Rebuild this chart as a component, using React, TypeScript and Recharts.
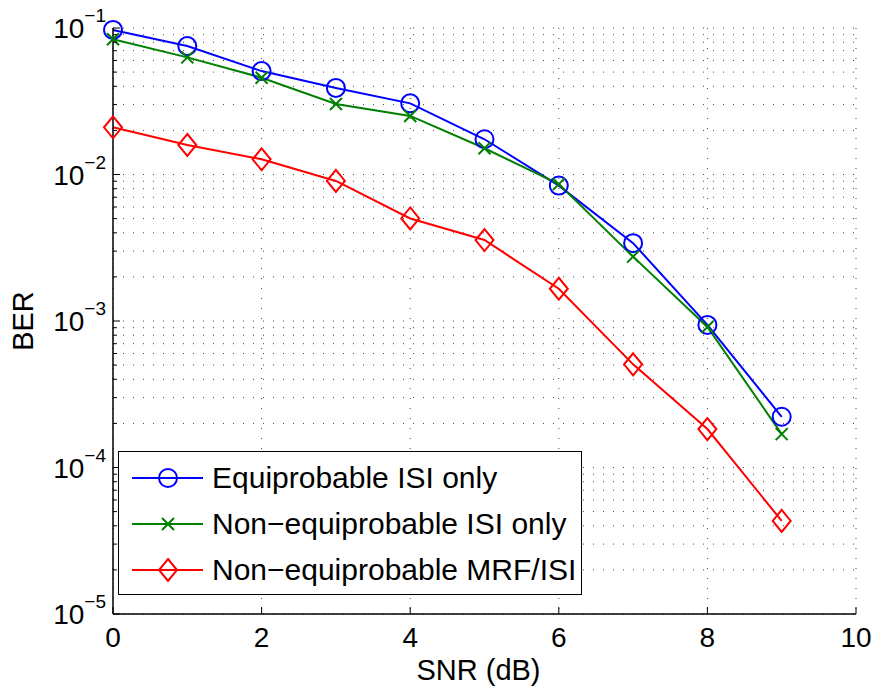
import React from "react";
import {
  LineChart,
  Line,
  XAxis,
  YAxis,
  CartesianGrid,
  Legend,
} from "recharts";

// ---- data ----
const snrDb = [0, 1, 2, 3, 4, 5, 6, 7, 8, 9];
const equiprobableIsi = [0.097, 0.0753, 0.0508, 0.039, 0.0306, 0.0174, 0.0084, 0.0034, 0.00094, 0.000222];
const nonEquiprobableIsi = [0.0837, 0.063, 0.0458, 0.0303, 0.0251, 0.0151, 0.0086, 0.00275, 0.00091, 0.000169];
const nonEquiprobableMrf = [0.021, 0.0159, 0.0127, 0.00904, 0.00501, 0.00357, 0.00166, 0.000506, 0.000183, 0.0000432];

const xTicks = [0, 2, 4, 6, 8, 10];
const yDecades = [-5, -4, -3, -2, -1];
const yTicks: number[] = [];
yDecades.forEach((d) => {
  yTicks.push(Math.pow(10, d));
  if (d < -1) for (let m = 2; m <= 9; m++) yTicks.push(m * Math.pow(10, d));
});

const seriesNames = [
  "Equiprobable ISI only",
  "Non\u2212equiprobable ISI only",
  "Non\u2212equiprobable MRF/ISI",
];
const seriesKeys = ["equi", "nonEqui", "mrf"];
const seriesColors = ["#0000ff", "#008000", "#ff0000"];
const seriesMarkers = ["circle", "cross", "diamond"];

const data = snrDb.map((s, i) => ({
  snr: s,
  equi: equiprobableIsi[i],
  nonEqui: nonEquiprobableIsi[i],
  mrf: nonEquiprobableMrf[i],
}));

const FONT = "'Liberation Sans', Arial, Helvetica, sans-serif";

const isMajor = (v: number) => {
  const l = Math.log10(v);
  return Math.abs(l - Math.round(l)) < 1e-9;
};

const Marker = ({ kind, cx, cy, color }: any) => {
  if (kind === "circle")
    return <circle cx={cx} cy={cy} r={9} fill="none" stroke={color} strokeWidth={2} />;
  if (kind === "cross")
    return (
      <path
        d={`M${cx - 6},${cy - 6}L${cx + 6},${cy + 6}M${cx - 6},${cy + 6}L${cx + 6},${cy - 6}`}
        stroke={color}
        strokeWidth={2}
        fill="none"
      />
    );
  return (
    <path
      d={`M${cx},${cy - 11}L${cx + 9},${cy}L${cx},${cy + 11}L${cx - 9},${cy}Z`}
      stroke={color}
      strokeWidth={2}
      fill="none"
    />
  );
};

const makeDot = (kind: string, color: string) => (props: any) => {
  const { cx, cy, index } = props;
  if (cx == null || cy == null) return <g key={`e-${kind}-${index}`} />;
  return (
    <g key={`${kind}-${index}`}>
      <Marker kind={kind} cx={cx} cy={cy} color={color} />
    </g>
  );
};

const LeftTick = (p: any) => {
  const { x, y, payload } = p;
  const v = payload.value;
  const major = isMajor(v);
  const e = Math.round(Math.log10(v));
  return (
    <g>
      <line x1={x} x2={x + (major ? 7 : 4)} y1={y} y2={y} stroke="#000" strokeWidth={1} />
      {major && (
        <text x={x - 7} y={y + 10} textAnchor="end" fontFamily={FONT} fill="#000">
          <tspan fontSize={28}>10</tspan>
          <tspan fontSize={19} dy={-16}>{"\u2212" + String(-e)}</tspan>
        </text>
      )}
    </g>
  );
};

const RightTick = (p: any) => {
  const { x, y, payload } = p;
  const major = isMajor(payload.value);
  return <line x1={x} x2={x - (major ? 7 : 4)} y1={y} y2={y} stroke="#000" strokeWidth={1} />;
};

const BottomTick = (p: any) => {
  const { x, y, payload } = p;
  return (
    <g>
      <line x1={x} x2={x} y1={y} y2={y - 7} stroke="#000" strokeWidth={1} />
      <text x={x} y={y + 33} textAnchor="middle" fontFamily={FONT} fontSize={28} fill="#000">
        {payload.value}
      </text>
    </g>
  );
};

const TopTick = (p: any) => {
  const { x, y } = p;
  return <line x1={x} x2={x} y1={y} y2={y + 7} stroke="#000" strokeWidth={1} />;
};

const renderLegend = () => (
  <div
    style={{
      width: 464,
      height: 144,
      boxSizing: "border-box",
      border: "1.5px solid #000",
      background: "#fff",
      paddingTop: 3,
      fontFamily: FONT,
    }}
  >
    {seriesNames.map((name, i) => (
      <div key={name} style={{ display: "flex", alignItems: "center", height: 46 }}>
        <svg width={93} height={46} style={{ display: "block" }}>
          <line x1={13} x2={84} y1={23} y2={23} stroke={seriesColors[i]} strokeWidth={2} />
          <Marker kind={seriesMarkers[i]} cx={49} cy={23} color={seriesColors[i]} />
        </svg>
        <span style={{ fontSize: 30, color: "#000", whiteSpace: "nowrap", lineHeight: "46px" }}>{name}</span>
      </div>
    ))}
  </div>
);

const YLabel = (props: any) => {
  const vb = props.viewBox;
  return (
    <text
      transform={`translate(${vb.x + 33}, ${vb.y + vb.height / 2}) rotate(-90)`}
      textAnchor="middle"
      fontFamily={FONT}
      fontSize={29}
      fill="#000"
    >
      BER
    </text>
  );
};

const XLabel = (props: any) => {
  const vb = props.viewBox;
  return (
    <text
      x={vb.x + vb.width / 2 - 6}
      y={vb.y + 66}
      textAnchor="middle"
      fontFamily={FONT}
      fontSize={29}
      fill="#000"
    >
      SNR (dB)
    </text>
  );
};

export default function App() {
  return (
    <div style={{ position: "absolute", left: 0, top: 0, width: 877, height: 687, background: "#fff" }}>
      <LineChart width={877} height={687} data={data} margin={{ top: 28, right: 21, bottom: 0, left: 0 }}>
        <CartesianGrid stroke="#444" strokeWidth={1} strokeDasharray="1 9" />
        <XAxis
          dataKey="snr"
          type="number"
          domain={[0, 10]}
          ticks={xTicks}
          interval={0}
          height={73}
          tickSize={0}
          tickMargin={0}
          tickLine={false}
          tick={<BottomTick />}
          axisLine={{ stroke: "#000", strokeWidth: 1.5 }}
          label={<XLabel />}
        />
        <XAxis
          xAxisId="t"
          orientation="top"
          dataKey="snr"
          type="number"
          domain={[0, 10]}
          ticks={xTicks}
          interval={0}
          height={0}
          tickSize={0}
          tickMargin={0}
          tickLine={false}
          tick={<TopTick />}
          axisLine={{ stroke: "#000", strokeWidth: 1.5 }}
        />
        <YAxis
          scale="log"
          type="number"
          domain={[1e-5, 1e-1]}
          ticks={yTicks}
          interval={0}
          width={113}
          tickSize={0}
          tickMargin={0}
          tickLine={false}
          tick={<LeftTick />}
          axisLine={{ stroke: "#000", strokeWidth: 1.5 }}
          label={<YLabel />}
        />
        <YAxis
          yAxisId="r"
          orientation="right"
          scale="log"
          type="number"
          domain={[1e-5, 1e-1]}
          ticks={yTicks}
          interval={0}
          width={0}
          tickSize={0}
          tickMargin={0}
          tickLine={false}
          tick={<RightTick />}
          axisLine={{ stroke: "#000", strokeWidth: 1.5 }}
        />
        {seriesKeys.map((k, i) => (
          <Line
            key={k}
            dataKey={k}
            name={seriesNames[i]}
            stroke={seriesColors[i]}
            strokeWidth={2}
            dot={makeDot(seriesMarkers[i], seriesColors[i])}
            activeDot={false}
            isAnimationActive={false}
          />
        ))}
        <Legend
          layout="vertical"
          align="center"
          verticalAlign="middle"
          content={renderLegend}
          wrapperStyle={{ position: "absolute", left: 118, top: 451, width: 464, height: 144, bottom: "auto", right: "auto", margin: 0 }}
        />
      </LineChart>
    </div>
  );
}
